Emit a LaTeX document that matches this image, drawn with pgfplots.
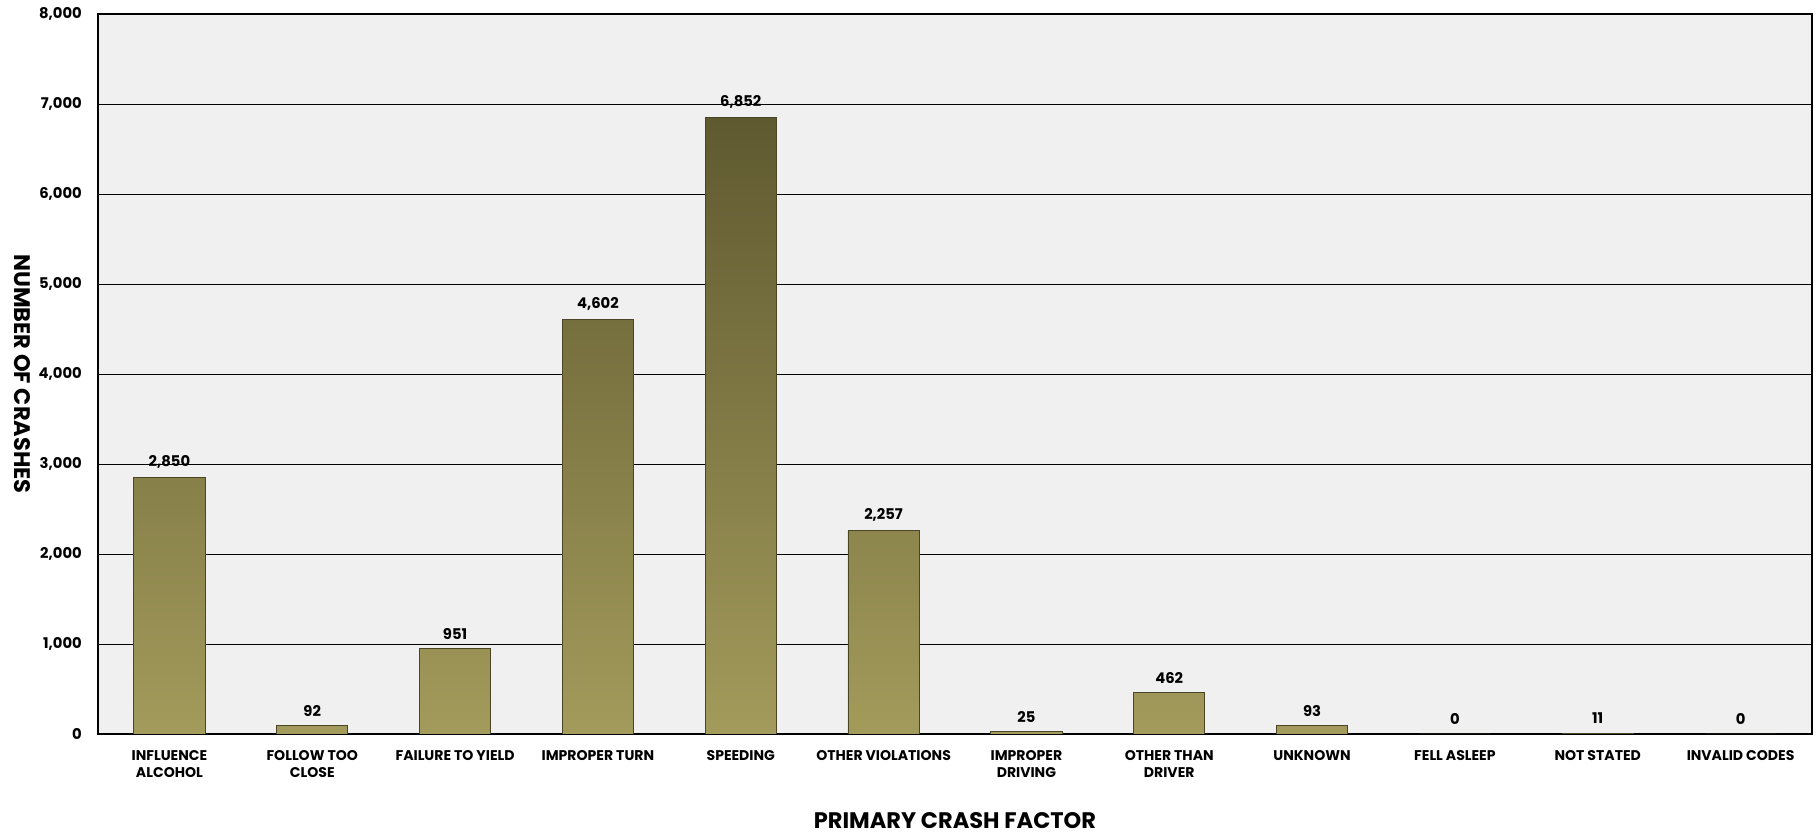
\documentclass[border=0pt]{standalone}
\usepackage{pgfplots}
\pgfplotsset{compat=1.18}
\usepackage{fontspec}
\setmainfont{Poppins}
\definecolor{bgray}{HTML}{F0F0F0}
\definecolor{bartop}{HTML}{5F5930}
\definecolor{barbot}{HTML}{A39B5B}
\definecolor{baredge}{HTML}{4A4525}
\begin{document}
\begin{tikzpicture}
\begin{axis}[
    scale only axis,
    width=42.85cm,
    height=18cm,
    xmin=-0.5, xmax=11.5,
    ymin=0, ymax=8000,
    ytick={0,1000,...,8000},
    xtick=data,
    xticklabels={{INFLUENCE\\ALCOHOL},{FOLLOW TOO\\CLOSE},{FAILURE TO YIELD},{IMPROPER TURN},{SPEEDING},{OTHER VIOLATIONS},{IMPROPER\\DRIVING},{OTHER THAN\\DRIVER},{UNKNOWN},{FELL ASLEEP},{NOT STATED},{INVALID CODES}},
    xticklabel style={align=center, font=\bfseries\fontsize{10}{12.5}\selectfont, yshift=-8pt},
    yticklabel style={font=\bfseries\fontsize{10.5}{12.5}\selectfont, xshift=-8pt},
    /pgf/number format/assume math mode=true,
    /pgf/number format/1000 sep={,},
    major tick length=0pt,
    axis background/.style={fill=bgray},
    axis line style={black, line width=0.9pt},
    ymajorgrids,
    grid style={black, line width=0.6pt},
    xlabel={PRIMARY CRASH FACTOR},
    ylabel={NUMBER OF CRASHES},
    xlabel style={font=\bfseries\fontsize{16}{18}\selectfont, at={(axis description cs:0.5,-0.1208)}, anchor=center},
    ylabel style={font=\bfseries\fontsize{16}{18}\selectfont, rotate=180, at={(axis description cs:-0.0443,0.5)}, anchor=center},
    ybar,
    bar width=1.78cm,
    nodes near coords,
    nodes near coords style={font=\bfseries\fontsize{10.5}{12.5}\selectfont, yshift=3pt},
]
\addplot[draw=baredge, line width=0.6pt, top color=bartop, bottom color=barbot] coordinates {
    (0,2850) (1,92) (2,951) (3,4602) (4,6852) (5,2257)
    (6,25) (7,462) (8,93) (9,0) (10,11) (11,0)
};
\end{axis}
\path (-2.45cm,-2.525cm) (43cm,18.35cm);
\end{tikzpicture}
\end{document}
